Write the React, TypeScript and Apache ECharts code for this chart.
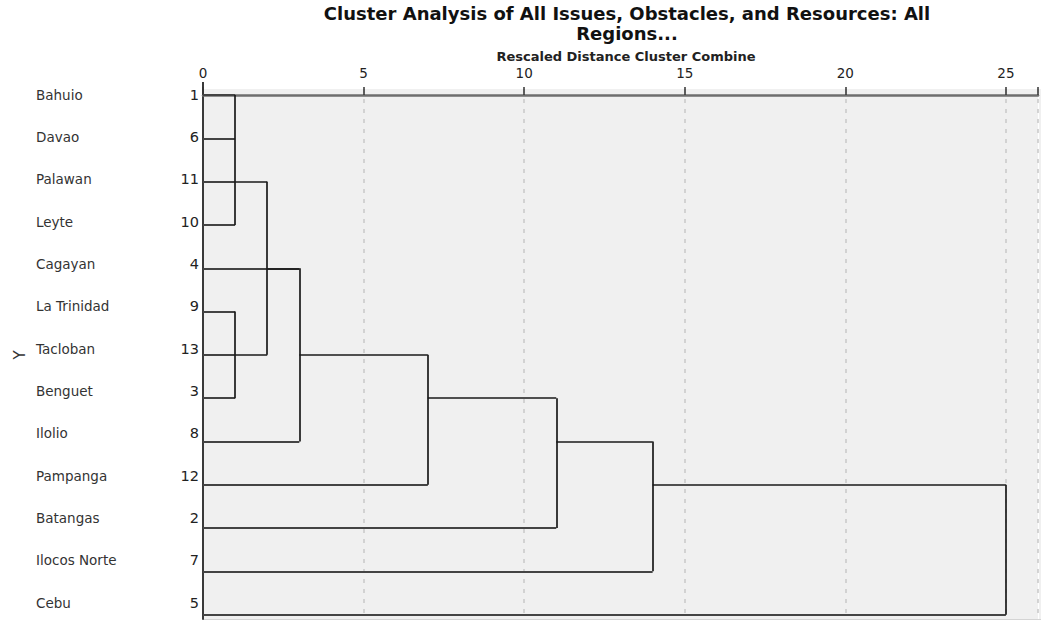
import React, { useEffect, useRef } from "react";
import * as echarts from "echarts";

// Leaves, top to bottom
const regions = [
  "Bahuio",
  "Davao",
  "Palawan",
  "Leyte",
  "Cagayan",
  "La Trinidad",
  "Tacloban",
  "Benguet",
  "Ilolio",
  "Pampanga",
  "Batangas",
  "Ilocos Norte",
  "Cebu",
];
const caseNumbers = [1, 6, 11, 10, 4, 9, 13, 3, 8, 12, 2, 7, 5];
// rescaled distance at which each leaf first joins a cluster
const leafMergeDistance = [1, 1, 1, 1, 3, 1, 1, 1, 3, 7, 11, 14, 25];

// clusters (merge steps)
const clusterDistance = [1, 1, 2, 3, 7, 11, 14, 25];
const clusterTopRow = [0, 5, 2, 4, 6, 7, 8, 9];
const clusterBottomRow = [3, 7, 6, 8, 9, 10, 11, 12];
const clusterLinkRow = [2, 6, 4, 6, 7, 8, 9, null];
const clusterParentDistance = [2, 2, 3, 7, 11, 14, 25, null];

const xTicks = [0, 5, 10, 15, 20, 25];

const FONT = "DejaVu Sans";

export default function App() {
  const ref = useRef<HTMLDivElement>(null);

  useEffect(() => {
    if (!ref.current) return;
    const chart = echarts.init(ref.current, null, { renderer: "svg" });

    const leafLines = regions.map((_, i) => ({
      coords: [
        [0, i],
        [leafMergeDistance[i], i],
      ],
    }));
    const clusterLines: any[] = [];
    clusterDistance.forEach((d, k) => {
      clusterLines.push({
        coords: [
          [d, clusterTopRow[k]],
          [d, clusterBottomRow[k]],
        ],
      });
      const lr = clusterLinkRow[k];
      const pd = clusterParentDistance[k];
      if (lr !== null && pd !== null) {
        clusterLines.push({
          coords: [
            [d, lr],
            [pd, lr],
          ],
        });
      }
    });

    const rowPx = 43.29;
    const firstRowY = 95;

    const option: any = {
      animation: false,
      grid: [
        {
          left: 203,
          right: 2,
          top: 89,
          bottom: 5,
          show: true,
          backgroundColor: "#f0f0f0",
          borderWidth: 0,
        },
        {
          left: 203,
          right: 2,
          top: firstRowY - rowPx / 2,
          height: rowPx * regions.length,
          show: false,
        },
      ],
      xAxis: [
        {
          type: "value",
          gridIndex: 0,
          position: "top",
          min: 0,
          max: 26,
          interval: 5,
          axisLine: { show: true, lineStyle: { color: "#6e6e6e", width: 2.5 } },
          axisTick: { show: true, length: 8, lineStyle: { color: "#333", width: 1.5 } },
          axisLabel: {
            margin: 9,
            fontSize: 13.5,
            color: "#222",
            fontFamily: FONT,
            formatter: (v: number) => (xTicks.includes(v) ? String(v) : ""),
          },
          splitLine: {
            show: true,
            lineStyle: { color: "#c8c8c8", width: 1.5, type: [4, 6] },
          },
        },
        {
          type: "value",
          gridIndex: 1,
          show: false,
          min: 0,
          max: 1,
        },
      ],
      yAxis: [
        {
          type: "value",
          gridIndex: 0,
          inverse: true,
          min: -0.14,
          max: 12.1,
          axisLine: { show: true, lineStyle: { color: "#3a3a3a", width: 2 } },
          axisTick: { show: false },
          axisLabel: { show: false },
          splitLine: { show: false },
        },
        {
          type: "category",
          gridIndex: 1,
          inverse: true,
          data: regions,
          axisLine: { show: false },
          axisTick: { show: false },
          splitLine: { show: false },
          axisLabel: {
            margin: 4,
            interval: 0,
            formatter: (v: string, i: number) => `{n|${v}}{c|${caseNumbers[i]}}`,
            rich: {
              n: {
                width: 141,
                align: "left",
                fontSize: 13.5,
                color: "#333",
                fontFamily: FONT,
              },
              c: {
                width: 22,
                align: "right",
                fontSize: 14.5,
                color: "#222",
                fontFamily: FONT,
              },
            },
          },
        },
      ],
      series: [
        {
          type: "lines",
          coordinateSystem: "cartesian2d",
          xAxisIndex: 0,
          yAxisIndex: 0,
          polyline: false,
          lineStyle: { color: "#444", width: 1.8, opacity: 1 },
          data: leafLines,
          z: 3,
        },
        {
          type: "lines",
          coordinateSystem: "cartesian2d",
          xAxisIndex: 0,
          yAxisIndex: 0,
          polyline: false,
          lineStyle: { color: "#1a1a1a", width: 1.7, opacity: 1 },
          data: clusterLines,
          z: 4,
        },
      ],
      graphic: [
        {
          type: "rect",
          shape: { x: 1039, y: 89, width: 2, height: 530 },
          style: { fill: "#f0f0f0" },
          z: -1,
        },
        {
          type: "line",
          shape: { x1: 203, y1: 619.5, x2: 1041, y2: 619.5 },
          style: { stroke: "#d4d4d4", lineWidth: 1 },
        },
        {
          type: "line",
          shape: { x1: 203, y1: 82, x2: 203, y2: 90 },
          style: { stroke: "#3a3a3a", lineWidth: 2 },
        },
        {
          type: "text",
          x: 627,
          y: 13,
          style: {
            text: "Cluster Analysis of All Issues, Obstacles, and Resources: All",
            fill: "#111",
            font: `bold 18px "${FONT}"`,
            align: "center",
            verticalAlign: "middle",
          },
        },
        {
          type: "text",
          x: 627,
          y: 33,
          style: {
            text: "Regions...",
            fill: "#111",
            font: `bold 18px "${FONT}"`,
            align: "center",
            verticalAlign: "middle",
          },
        },
        {
          type: "text",
          x: 626,
          y: 56,
          style: {
            text: "Rescaled Distance Cluster Combine",
            fill: "#222",
            font: `bold 13px "${FONT}"`,
            align: "center",
            verticalAlign: "middle",
          },
        },
        {
          type: "text",
          x: 20,
          y: 355,
          rotation: Math.PI / 2,
          style: {
            text: "Y",
            fill: "#333",
            font: `15px "${FONT}"`,
            align: "center",
            verticalAlign: "middle",
          },
        },
      ],
    };

    chart.setOption(option);
    return () => chart.dispose();
  }, []);

  return <div ref={ref} style={{ width: 1041, height: 624, position: "absolute", left: 0, top: 0 }} />;
}
